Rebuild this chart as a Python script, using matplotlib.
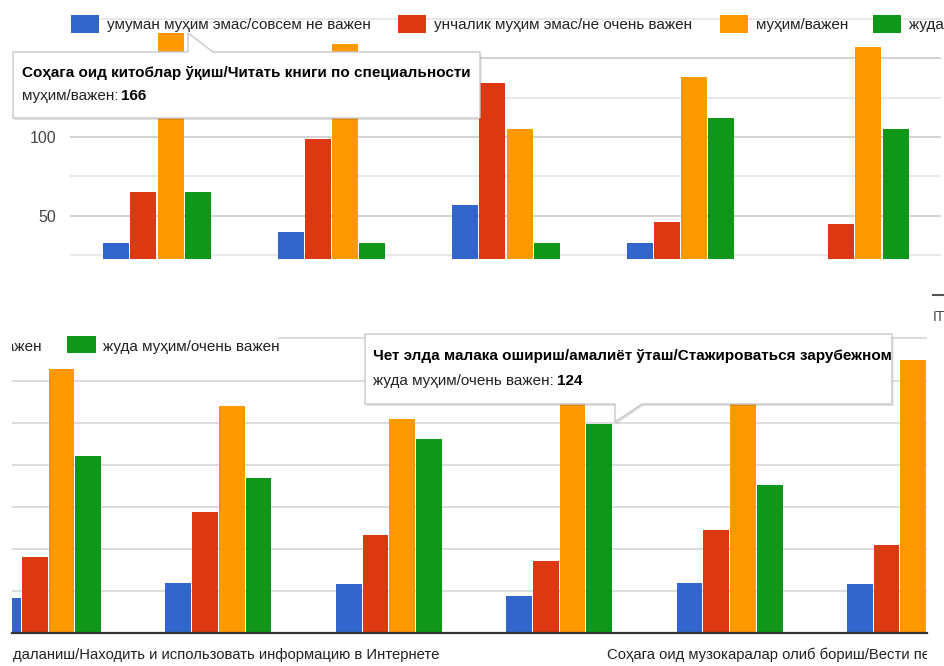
import numpy as np
import matplotlib
matplotlib.use('Agg')
import matplotlib.pyplot as plt
from matplotlib import font_manager
from matplotlib.patches import Polygon, Rectangle
from matplotlib.text import Annotation
from matplotlib.lines import Line2D

# --- datos ---
series = ['умуман муҳим эмас/совсем не важен',
          'унчалик муҳим эмас/не очень важен',
          'муҳим/важен',
          'жуда муҳим/очень важен']
colors = ['#3366cc', '#dc3912', '#ff9900', '#109618']

not_important = [33, 40, 57, 33, 21, 30, 29, 22, 30, 29]
not_very = [65, 99, 134, 46, 45, 72, 58, 43, 61, 52]
important = [166, 159, 105, 138, 157, 135, 127, 150, 142, 162]
very = [65, 33, 33, 112, 105, 92, 115, 124, 88, 95]
values = [not_important, not_very, important, very]

top_idx = [0, 1, 2, 3, 4]
bottom_idx = [4, 5, 6, 7, 8, 9]

tip_top = ('Соҳага оид китоблар ўқиш/Читать книги по специальности', 'муҳим/важен: ', '166')
tip_bottom = ('Чет элда малака ошириш/амалиёт ўташ/Стажироваться зарубежном', 'жуда муҳим/очень важен: ', '124')
xlabel_left = 'даланиш/Находить и использовать информацию в Интернете'
xlabel_right = 'Соҳага оид музокаралар олиб бориш/Вести переговоры по специальности'

# --- fuente ---
names = {f.name for f in font_manager.fontManager.ttflist}
if 'Liberation Sans Narrow' in names:
    FONT = 'Liberation Sans Narrow'
    FS = 13.2
else:
    FONT = 'Liberation Sans'
    FS = 11.0

W, H = 944, 666
fig = plt.figure(figsize=(W / 100, H / 100), dpi=100)


def fx(x):
    return x / W


def fy(y):
    return 1 - y / H


def add_axes_px(x0, y0, x1, y1):
    return fig.add_axes([fx(x0), fy(y1), fx(x1) - fx(x0), (y1 - y0) / H])


def draw_bars(ax, idx, step, width):
    for k, (vals, c) in enumerate(zip(values, colors)):
        xs = np.arange(len(idx)) + (k - 1.5) * step
        ax.bar(xs, [vals[i] for i in idx], width=width, color=c, zorder=2)


def clean(ax):
    for s in ax.spines.values():
        s.set_visible(False)
    ax.set_xticks([])
    ax.tick_params(axis='y', length=0)
    ax.set_axisbelow(True)


# --- panel superior ---
ax1 = add_axes_px(70, 0, 941, 259)
draw_bars(ax1, top_idx, 0.155, 0.149)
ax1.set_xlim(-0.4986, 4.493)
ax1.set_ylim((295 - 259) / 1.58, 295 / 1.58)
clean(ax1)
ax1.set_yticks([50, 100, 150])
ax1.set_yticks([25, 75, 125, 175], minor=True)
ax1.tick_params(axis='y', which='both', length=0, pad=10, labelsize=FS + 0.5, labelcolor='#444')
for lab in ax1.get_yticklabels():
    lab.set_family(FONT)
ax1.grid(True, which='major', axis='y', color='#cfcfcf', linewidth=1.3)
ax1.grid(True, which='minor', axis='y', color='#e2e2e2', linewidth=1.1)

# --- panel inferior ---
ax2 = add_axes_px(12, 300, 927, 633)
draw_bars(ax2, bottom_idx, 0.157, 0.151)
ax2.set_xlim(-0.2115, 5.159)
ax2.set_ylim(0, 333 / 1.683)
clean(ax2)
ax2.set_yticks([25, 50, 75, 100, 125, 150, 175])
ax2.set_yticklabels([])
ax2.grid(True, axis='y', color='#dadada', linewidth=1.3)
ax2.spines['bottom'].set_visible(True)
ax2.spines['bottom'].set_color('#333333')
ax2.spines['bottom'].set_linewidth(1.6)

# --- leyenda superior ---
sq_top = [71, 398, 720, 873]
for x0, c, s in zip(sq_top, colors, series):
    fig.add_artist(Rectangle((fx(x0), fy(33)), 28 / W, 18 / H, transform=fig.transFigure,
                             facecolor=c, edgecolor='none', zorder=4))
    fig.text(fx(x0 + 36), fy(24.5), s, ha='left', va='center', fontsize=FS,
             family=FONT, color='#222222', zorder=4)

# --- leyenda inferior (recortada) ---
fig.add_artist(Rectangle((0, fy(358)), 278 / W, 28 / H, transform=fig.transFigure,
                         facecolor='white', edgecolor='none', zorder=3))
clip_bottom = Rectangle((fx(12), 0), fx(927) - fx(12), 1, transform=fig.transFigure)
t = fig.text(fx(42), fy(347), 'важен', ha='right', va='center', fontsize=FS,
             family=FONT, color='#222222', zorder=4)
t.set_clip_path(clip_bottom)
fig.add_artist(Rectangle((fx(67), fy(353)), 29 / W, 17 / H, transform=fig.transFigure,
                         facecolor=colors[3], edgecolor='none', zorder=4))
fig.text(fx(103), fy(347), series[3], ha='left', va='center', fontsize=FS,
         family=FONT, color='#222222', zorder=4)

# --- etiquetas eje x inferior ---
fig.text(fx(13), fy(655), xlabel_left, ha='left', va='center', fontsize=FS - 0.3,
         family=FONT, color='#222222')
t = fig.text(fx(607), fy(655), xlabel_right, ha='left', va='center', fontsize=FS - 0.3,
             family=FONT, color='#222222')
t.set_clip_path(clip_bottom)

# fragmentos a la derecha
fig.add_artist(Line2D([fx(933), fx(944)], [fy(294.5), fy(294.5)], transform=fig.transFigure,
                      color='#555555', linewidth=1.5))
fig.text(fx(933), fy(317), 'IT', ha='left', va='center', fontsize=FS - 1,
         family=FONT, color='#444444')


# --- tooltips ---
def tooltip(pts, tip, x_text, y1, y2):
    shadow = [(fx(x + 1.5), fy(y + 2)) for x, y in pts]
    fig.add_artist(Polygon(shadow, closed=True, transform=fig.transFigure,
                           facecolor='#000000', alpha=0.12, edgecolor='none', zorder=5))
    fig.add_artist(Polygon([(fx(x), fy(y)) for x, y in pts], closed=True,
                           transform=fig.transFigure, facecolor='white',
                           edgecolor='#c8c8c8', linewidth=1, zorder=5))
    fig.text(fx(x_text), fy(y1), tip[0], ha='left', va='center', fontsize=FS,
             family=FONT, weight='bold', color='#000000', zorder=6)
    t2 = fig.text(fx(x_text), fy(y2), tip[1], ha='left', va='center', fontsize=FS,
                  family=FONT, color='#222222', zorder=6)
    ann = Annotation(tip[2], xy=(1, 0), xycoords=t2, xytext=(-1, 0), textcoords='offset points',
                     ha='left', va='bottom', fontsize=FS, family=FONT, weight='bold',
                     color='#000000', zorder=6)
    fig.add_artist(ann)


tooltip([(13, 52), (188, 52), (188, 33), (213, 52), (480, 52), (480, 118), (13, 118)],
        tip_top, 22, 73, 96)
tooltip([(365, 334), (892, 334), (892, 404), (642, 404), (615, 422), (615, 404), (365, 404)],
        tip_bottom, 373, 356, 381)

plt.savefig('out.png', dpi=100)
